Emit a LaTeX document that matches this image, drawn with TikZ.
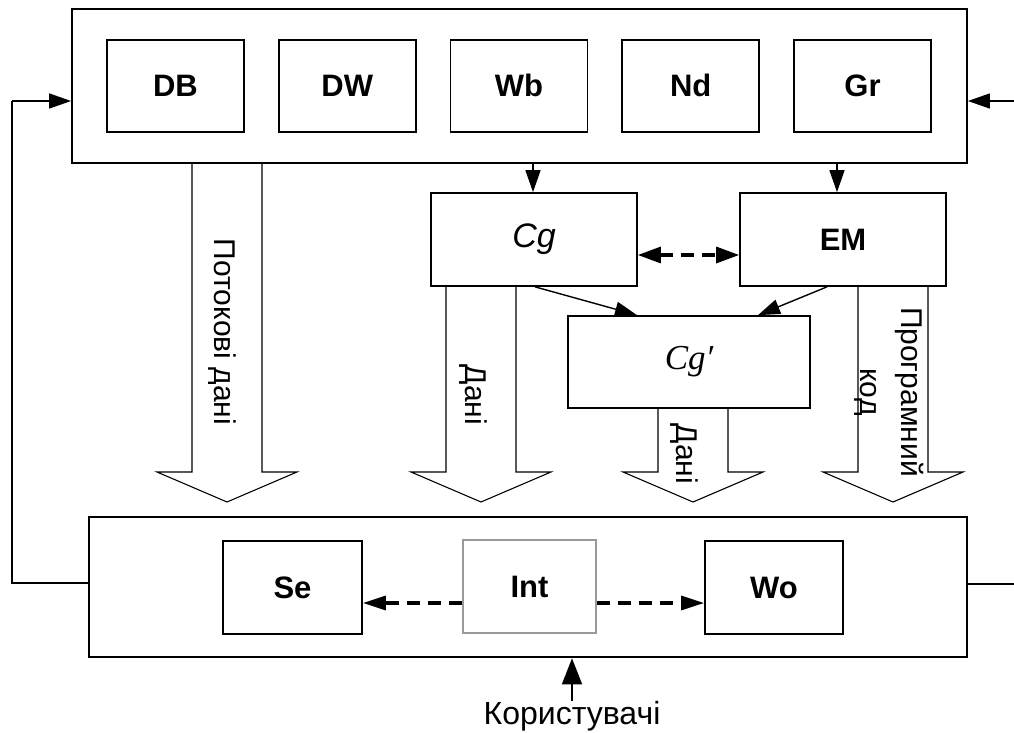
\documentclass[tikz,border=0pt]{standalone}
\usepackage{fontspec}
\setmainfont{Liberation Sans}
\newfontfamily\seriffont{Liberation Serif}
\usetikzlibrary{arrows.meta}

% hollow block arrow from a source node down to a fixed tip
% #1 centre x, #2 source node, #3 name of the tip coordinate
\newcommand\flowarrow[3]{%
  \draw[hollowarrow] (#1-35,0 |- #2.south) -- (#1-35,472) -- (#1-70,472)
    -- (#1,502) -- (#1+70,472) -- (#1+35,472) -- (#1+35,0 |- #2.south);
  \coordinate (#3) at (#1,502);}

\begin{document}
\begin{tikzpicture}[x=1pt,y=-1pt,
  outerbox/.style={draw, line width=1.8pt, inner sep=0pt},
  unit/.style={draw, line width=1.7pt, inner sep=0pt,
    minimum width=137pt, minimum height=92pt,
    text height=22pt, text depth=0pt,
    font=\fontsize{31}{33}\selectfont\bfseries},
  midbox/.style={draw, line width=1.7pt, inner sep=0pt,
    minimum width=206pt, minimum height=93pt},
  hollowarrow/.style={line width=1.1pt, line join=miter},
  solidtip/.style={line width=1.4pt, -{Triangle[length=22pt,width=15pt]}},
  dashlink/.style={line width=3.2pt, dash pattern=on 13pt off 8pt},
  flowlabel/.style={rotate=-90, inner sep=0pt,
    font=\fontsize{30}{41}\selectfont},
]
\useasboundingbox (0,0) rectangle (1014,733);

% storage layer
\node[outerbox, minimum width=895pt, minimum height=154pt] (src) at (519.5,86) {};
\node[unit] (db) at (175.5,86)  {DB};
\node[unit] (dw) at (347.25,86) {DW};
\node[unit] (wb) at (519,86)    {Wb};
\node[unit] (nd) at (690.75,86) {Nd};
\node[unit] (gr) at (862.5,86)  {Gr};

% processing blocks
\node[midbox, font=\fontsize{34}{36}\selectfont\itshape] (cg) at (534,239.5) {Cg};
\node[midbox, text height=22pt, text depth=0pt, font=\fontsize{31}{33}\selectfont\bfseries] (em) at (843,239.5) {EM};
\node[draw, line width=1.7pt, inner sep=0pt, minimum width=242pt, minimum height=92pt,
  font=\fontsize{35}{36}\selectfont\seriffont\itshape] (cgp) at (689,362) {Cg′};

% user layer
\node[outerbox, line width=2.6pt, minimum width=878pt, minimum height=140pt] (usr) at (528,587) {};
\node[unit, minimum width=139pt, minimum height=93pt] (se) at (292.5,587.5) {Se};
\node[unit, draw=black!40, line width=1.1pt, minimum width=133pt, minimum height=93pt] (int) at (529.5,586.5) {Int};
\node[unit, minimum width=138pt, minimum height=93pt] (wo) at (774,587.5) {Wo};

% block arrows
\flowarrow{227}{src}{tipA}
\flowarrow{481}{cg}{tipB}
\flowarrow{693}{cgp}{tipC}
\flowarrow{893}{em}{tipD}

% labels of the block arrows
\node[flowlabel] (lblA) at (222,332) {Потокові дані};
\node[flowlabel] (lblB) at (473,395) {Дані};
\node[flowlabel] (lblC) at (684,454) {Дані};
\node[flowlabel, align=center] (lblD) at (889.5,392) {Програмний\\код};

% arrows between blocks
\draw[solidtip] (533,0 |- src.south) -- (533,0 |- cg.north);
\draw[solidtip] (837,0 |- src.south) -- (837,0 |- em.north);
\draw[solidtip] (535,0 |- cg.south) -- (637,0 |- cgp.north);
\draw[solidtip] (827,0 |- em.south) -- (758,0 |- cgp.north);
\draw[dashlink, {Triangle[length=23pt,width=16pt]}-{Triangle[length=23pt,width=16pt]}]
  (cg.east |- 0,255) -- (em.west |- 0,255);

% links inside the user layer
\draw[dashlink, -{Triangle[length=23pt,width=14pt]}] (int.west |- 0,603) -- (se.east |- 0,603);
\draw[dashlink, -{Triangle[length=23pt,width=14pt]}] (int.east |- 0,603) -- (wo.west |- 0,603);

% feedback loops
\coordinate (fbA) at (12,583);
\coordinate (fbB) at (12,101);
\draw[line width=1.4pt] (usr.west |- fbA) -- (fbA) -- (fbB);
\draw[solidtip] (fbB) -- (src.west |- fbB);
\coordinate (edgeA) at (1014,584);
\coordinate (edgeB) at (1014,101);
\draw[line width=1.4pt] (usr.east |- edgeA) -- (edgeA);
\draw[solidtip] (edgeB) -- (src.east |- edgeB);

% users
\node[font=\fontsize{32}{34}\selectfont, inner sep=0pt] (users) at (572,716) {Користувачі};
\draw[line width=1.6pt, -{Triangle[length=26pt,width=20pt]}] (users.north |- 0,701) -- (users.north |- usr.south);
\end{tikzpicture}
\end{document}
